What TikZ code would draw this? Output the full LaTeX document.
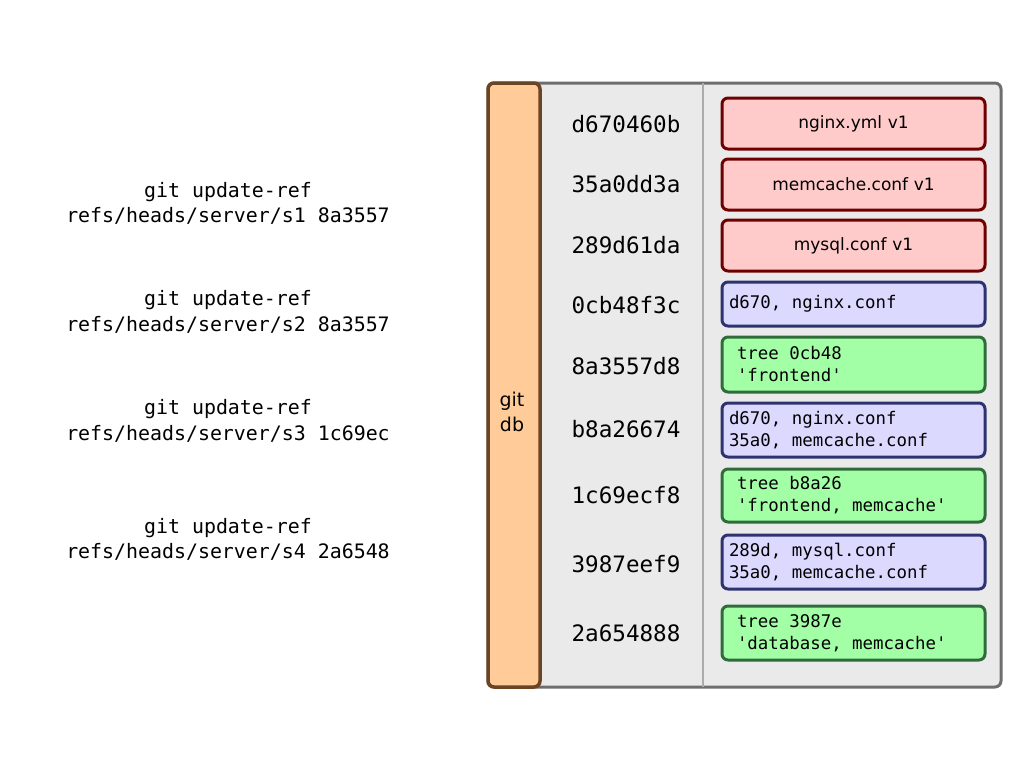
\documentclass[tikz,border=0pt]{standalone}
\usepackage{fontspec}
\setmainfont{DejaVu Sans}
\setmonofont{DejaVu Sans Mono}
\definecolor{outerfill}{HTML}{EAEAEA}
\definecolor{outerline}{HTML}{6E6E6E}
\definecolor{dbfill}{HTML}{FFCC99}
\definecolor{dbline}{HTML}{6B4423}
\definecolor{redfill}{HTML}{FFCACA}
\definecolor{redline}{HTML}{6E0000}
\definecolor{bluefill}{HTML}{DCD9FF}
\definecolor{blueline}{HTML}{2E3270}
\definecolor{greenfill}{HTML}{A3FFA6}
\definecolor{greenline}{HTML}{2F6B3B}
\newcommand{\boxmono}{\ttfamily\fontsize{17.4}{22}\selectfont}
\newcommand{\fixspaces}{\spaceskip=\fontdimen2\font\xspaceskip=\fontdimen2\font}
\tikzset{
  cmd/.style={align=center,font=\ttfamily\fontsize{19.9}{25.5}\selectfont,inner sep=0pt},
  hash/.style={font=\ttfamily\fontsize{22.6}{25}\selectfont,inner sep=0pt},
  obj/.style={draw,line width=3pt,rounded corners=6pt,minimum width=263pt,inner ysep=0pt},
  blob/.style={obj,fill=redfill,draw=redline,align=center,text width=249pt,inner xsep=7pt,font=\fontsize{17}{21}\selectfont},
  treeobj/.style={obj,fill=bluefill,draw=blueline,align=left,text width=249pt,inner xsep=7pt,font=\boxmono,execute at begin node=\fixspaces},
  commitobj/.style={obj,fill=greenfill,draw=greenline,align=left,text width=233pt,inner xsep=15pt,font=\boxmono,execute at begin node=\fixspaces},
}
\begin{document}
\begin{tikzpicture}[x=1pt,y=-1pt]
\useasboundingbox (0,0) rectangle (1024,768);
% outer store
\node[draw=outerline,fill=outerfill,line width=3pt,rounded corners=6pt,minimum width=513pt,minimum height=604pt,inner sep=0pt] (store) at (744.5,385) {};
\coordinate (sepTop) at (703,83);
\coordinate (sepBot) at (703,687);
\draw[color=black!33,line width=1.5pt] (sepTop) -- (sepBot);
% git db bar
\node[draw=dbline,fill=dbfill,line width=3.5pt,rounded corners=6pt,minimum width=52pt,minimum height=604pt,inner sep=0pt] (db) at (514,385) {};
\node[align=center,font=\fontsize{19}{25}\selectfont,inner sep=0pt] (dblabel) at (512,412) {git\\db};
% hashes
\node[hash] (h1) at (626,124) {d670460b};
\node[hash] (h2) at (626,184) {35a0dd3a};
\node[hash] (h3) at (626,245) {289d61da};
\node[hash] (h4) at (626,305) {0cb48f3c};
\node[hash] (h5) at (626,366) {8a3557d8};
\node[hash] (h6) at (626,429) {b8a26674};
\node[hash] (h7) at (626,495) {1c69ecf8};
\node[hash] (h8) at (626,564) {3987eef9};
\node[hash] (h9) at (626,633) {2a654888};
% objects
\node[blob,minimum height=51pt] (o1) at (853.5,123.5) {nginx.yml v1};
\node[blob,minimum height=51pt] (o2) at (853.5,184.5) {memcache.conf v1};
\node[blob,minimum height=51pt] (o3) at (853.5,245.5) {mysql.conf v1};
\node[treeobj,minimum height=44pt] (o4) at (853.5,304) {d670, nginx.conf};
\node[commitobj,minimum height=55pt] (o5) at (853.5,364.5) {tree 0cb48\\'frontend'};
\node[treeobj,minimum height=54pt] (o6) at (853.5,430) {d670, nginx.conf\\35a0, memcache.conf};
\node[commitobj,minimum height=53pt] (o7) at (853.5,495.5) {tree b8a26\\'frontend, memcache'};
\node[treeobj,minimum height=54pt] (o8) at (853.5,562) {289d, mysql.conf\\35a0, memcache.conf};
\node[commitobj,minimum height=54pt] (o9) at (853.5,633) {tree 3987e\\'database, memcache'};
% commands
\node[cmd] (c1) at (228,203.5) {git update-ref\\refs/heads/server/s1 8a3557};
\node[cmd] (c2) at (228,312) {git update-ref\\refs/heads/server/s2 8a3557};
\node[cmd] (c3) at (228,421) {git update-ref\\refs/heads/server/s3 1c69ec};
\node[cmd] (c4) at (228,539.5) {git update-ref\\refs/heads/server/s4 2a6548};
\end{tikzpicture}
\end{document}
